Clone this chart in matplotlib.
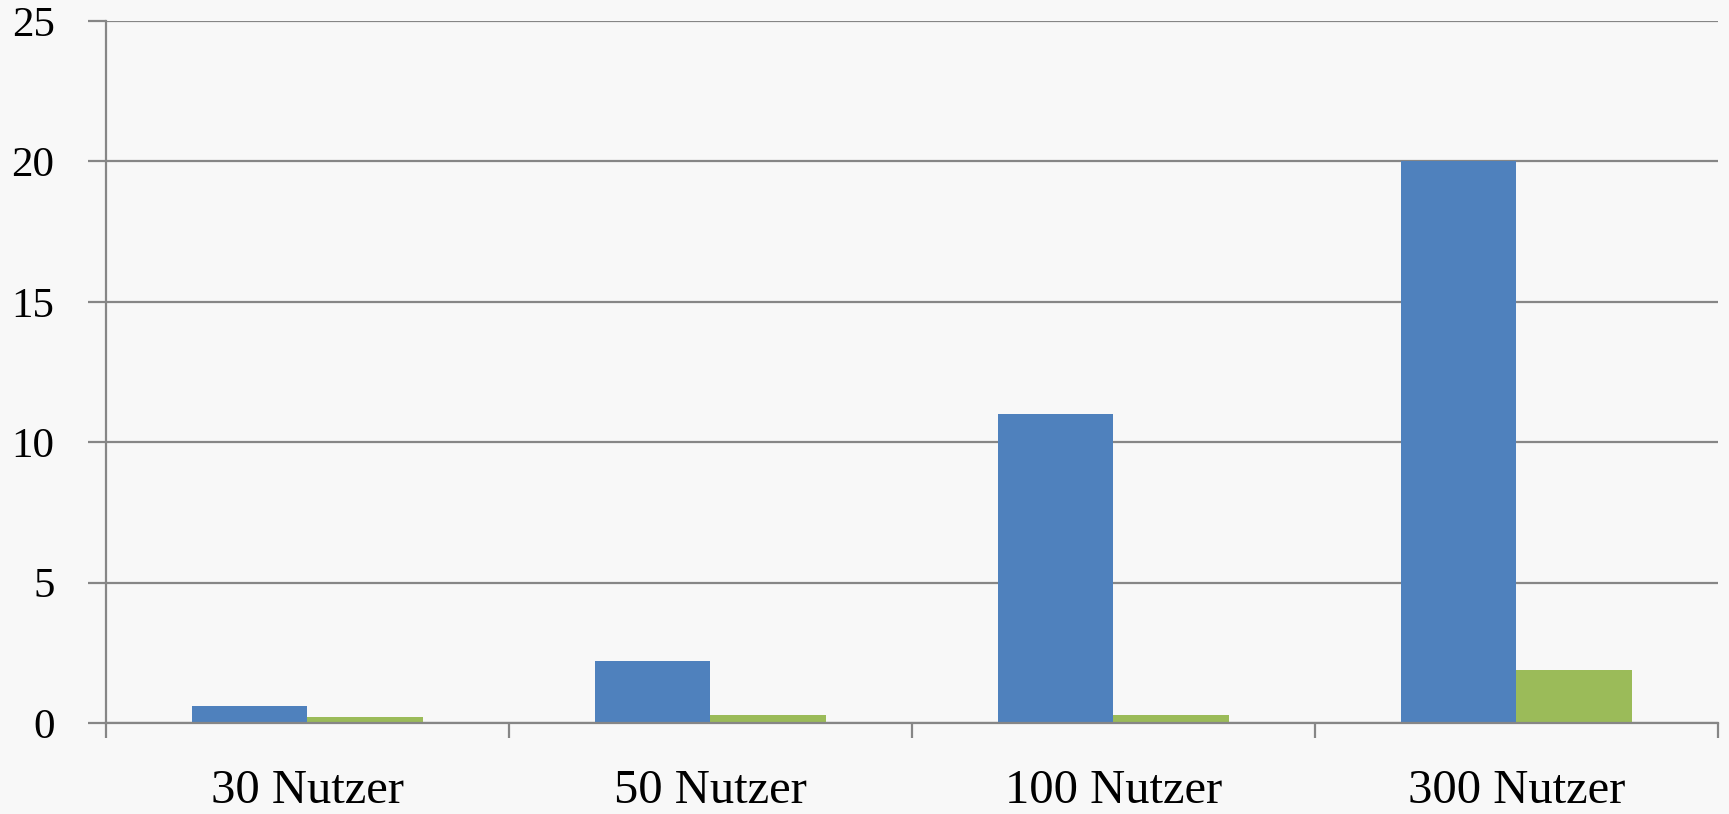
import numpy as np
import matplotlib
matplotlib.use("Agg")
import matplotlib.pyplot as plt

categories = ["30 Nutzer", "50 Nutzer", "100 Nutzer", "300 Nutzer"]
series_blue = [0.6, 2.2, 11.0, 20.0]
series_green = [0.2, 0.3, 0.3, 1.9]
y_ticks = [0, 5, 10, 15, 20, 25]

plt.rcParams['font.family'] = ['Liberation Serif', 'DejaVu Serif']

fig = plt.figure(figsize=(17.29, 8.14), dpi=100, facecolor='#f8f8f8')
ax = fig.add_axes([0.0613, 0.1118, 0.9323, 0.8624])
ax.set_facecolor('#f8f8f8')

x = np.arange(len(categories))
w = 0.2857
ax.bar(x - w / 2, series_blue, width=w, color='#4f81bd', zorder=3)
ax.bar(x + w / 2, series_green, width=w, color='#9bbb59', zorder=3)

ax.set_xlim(-0.5, len(categories) - 0.5)
ax.set_ylim(0, 25)
ax.set_yticks(y_ticks)
ax.set_yticklabels([str(v) for v in y_ticks], fontsize=31)
ax.yaxis.grid(True, color='#868686', linewidth=1.6, zorder=0)

ax.set_xticks(x)
ax.set_xticklabels(categories, fontsize=35)
ax.set_xticks(np.arange(-0.5, len(categories), 1.0), minor=True)
ax.tick_params(axis='x', which='major', length=0, pad=33)
ax.tick_params(axis='x', which='minor', length=11, width=1.6, color='#868686')
ax.tick_params(axis='y', length=13, width=1.6, color='#868686', pad=24)

for side in ['top', 'right']:
    ax.spines[side].set_visible(False)
for side in ['left', 'bottom']:
    ax.spines[side].set_color('#868686')
    ax.spines[side].set_linewidth(1.6)
    ax.spines[side].set_zorder(4)

fig.savefig("out.png", dpi=100, facecolor=fig.get_facecolor())
